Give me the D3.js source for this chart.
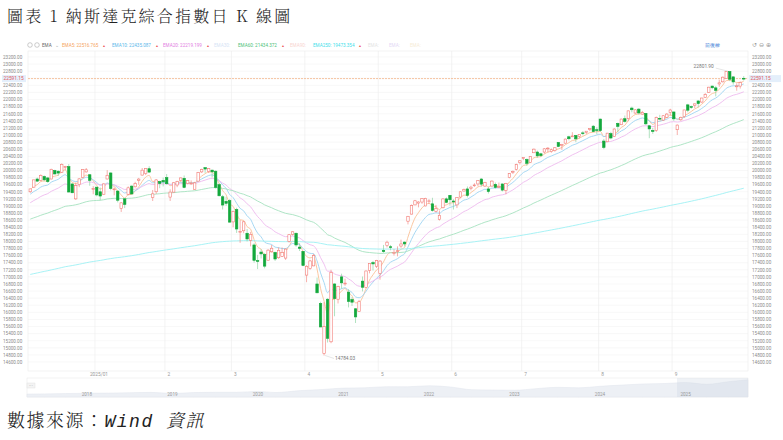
<!DOCTYPE html>
<html><head><meta charset="utf-8">
<script src="https://cdn.jsdelivr.net/npm/d3@7/dist/d3.min.js"></script>
<style>body{margin:0;background:#fff;}svg{display:block;}</style>
</head><body>
<svg id="c" width="783" height="440"></svg>
<script>
const candles = [
["2024-12-03",19400,19490,19370,19480],["2024-12-04",19530,19740,19510,19735],["2024-12-05",19760,19800,19680,19700],["2024-12-06",19720,19890,19700,19860],["2024-12-09",19830,19860,19700,19737],["2024-12-10",19790,19820,19650,19687],["2024-12-11",19760,20050,19750,20034],["2024-12-12",20000,20020,19890,19902],["2024-12-13",19980,20000,19850,19927],["2024-12-16",19950,20200,19930,20173],["2024-12-17",20100,20130,20010,20109],["2024-12-18",20110,20180,19380,19393],["2024-12-19",19620,19640,19360,19372],["2024-12-20",19200,19660,19170,19573],["2024-12-23",19600,19780,19530,19764],["2024-12-24",19800,20040,19790,20031],["2024-12-26",19960,20070,19940,20020],["2024-12-27",19880,19900,19570,19722],["2024-12-30",19480,19560,19330,19487],["2024-12-31",19530,19540,19270,19311],
["2025-01-02",19400,19520,19160,19280],["2025-01-03",19330,19640,19320,19622],["2025-01-06",19760,20010,19750,19865],["2025-01-07",19930,19950,19440,19490],["2025-01-08",19470,19520,19300,19479],["2025-01-10",19420,19430,19100,19162],["2025-01-13",18930,19100,18830,19088],["2025-01-14",19200,19220,18940,19044],["2025-01-15",19330,19550,19300,19511],["2025-01-16",19560,19580,19330,19338],["2025-01-17",19540,19680,19520,19630],["2025-01-21",19720,19790,19600,19757],["2025-01-22",19870,20070,19860,20009],["2025-01-23",19910,20060,19870,20054],["2025-01-24",20050,20120,19930,19955],["2025-01-27",19240,19450,19140,19342],["2025-01-28",19400,19760,19340,19734],["2025-01-29",19690,19710,19500,19633],["2025-01-30",19720,19800,19550,19681],["2025-01-31",19800,19900,19600,19627],
["2025-02-03",19250,19470,19140,19391],["2025-02-04",19390,19670,19380,19654],["2025-02-05",19590,19710,19530,19692],["2025-02-06",19720,19800,19690,19791],["2025-02-07",19780,19860,19500,19523],["2025-02-10",19630,19730,19610,19714],["2025-02-11",19620,19720,19600,19643],["2025-02-12",19470,19680,19460,19650],["2025-02-13",19700,19960,19690,19946],["2025-02-14",19960,20050,19930,20026],["2025-02-18",20080,20080,19930,20041],["2025-02-19",19970,20070,19930,20056],["2025-02-20",20010,20020,19810,19962],["2025-02-21",19980,20000,19490,19524],["2025-02-24",19600,19640,19270,19287],["2025-02-25",19260,19310,18900,19026],["2025-02-26",19130,19260,19000,19075],["2025-02-27",19150,19190,18530,18544],["2025-02-28",18550,18870,18400,18847],
["2025-03-03",18900,18950,18240,18350],["2025-03-04",18260,18600,17960,18285],["2025-03-05",18300,18580,18230,18553],["2025-03-06",18230,18350,18000,18069],["2025-03-07",18030,18270,17860,18196],["2025-03-10",17900,17950,17400,17468],["2025-03-11",17460,17620,17220,17436],["2025-03-12",17700,17780,17520,17648],["2025-03-13",17630,17670,17240,17303],["2025-03-14",17470,17780,17460,17754],["2025-03-17",17710,17900,17680,17808],["2025-03-18",17690,17710,17450,17504],["2025-03-19",17540,17830,17510,17750],["2025-03-20",17580,17830,17560,17692],["2025-03-21",17530,17800,17480,17784],["2025-03-24",18000,18200,17970,18189],["2025-03-25",18200,18280,18170,18272],["2025-03-26",18230,18250,17850,17900],["2025-03-27",17840,17950,17730,17805],["2025-03-28",17720,17730,17300,17323],["2025-03-31",17050,17330,16850,17299],
["2025-04-01",17240,17480,17200,17450],["2025-04-02",17310,17650,17300,17601],["2025-04-03",16800,16980,16540,16551],["2025-04-04",16250,16300,15580,15588],["2025-04-07",14840,16290,14784.03,15603],["2025-04-08",16370,16400,15150,15268],["2025-04-09",15170,17200,15130,17125],["2025-04-10",16800,16820,15890,16387],["2025-04-11",16370,16750,16250,16724],["2025-04-14",17000,17090,16670,16832],["2025-04-15",16820,16950,16750,16824],["2025-04-16",16570,16650,16140,16307],["2025-04-17",16360,16430,16180,16287],["2025-04-21",16100,16120,15700,15871],["2025-04-22",16030,16350,16010,16300],["2025-04-23",16880,17010,16590,16708],["2025-04-24",16700,17180,16680,17166],["2025-04-25",17180,17390,17100,17383],["2025-04-28",17400,17450,17180,17366],["2025-04-29",17300,17480,17250,17461],["2025-04-30",17100,17470,16920,17446],
["2025-05-01",17750,17900,17680,17711],["2025-05-02",17880,18020,17830,17978],["2025-05-05",17850,17900,17750,17844],["2025-05-06",17660,17780,17600,17690],["2025-05-07",17720,17860,17580,17738],["2025-05-08",17870,18050,17820,17928],["2025-05-09",17980,18000,17860,17929],["2025-05-12",18570,18720,18480,18708],["2025-05-13",18770,19040,18760,19010],["2025-05-14",19030,19170,19020,19146],["2025-05-15",19080,19130,18960,19112],["2025-05-16",19110,19220,19060,19211],["2025-05-19",19000,19230,18990,19215],["2025-05-20",19140,19190,19060,19143],["2025-05-21",19060,19230,18840,18873],["2025-05-22",18850,19030,18820,18926],["2025-05-23",18620,18870,18590,18737],["2025-05-27",18950,19210,18930,19199],["2025-05-28",19200,19240,19080,19101],["2025-05-29",19300,19310,19010,19175],["2025-05-30",19140,19190,18900,19114],
["2025-06-02",19030,19250,18940,19243],["2025-06-03",19250,19410,19220,19399],["2025-06-04",19420,19490,19410,19460],["2025-06-05",19480,19550,19240,19298],["2025-06-06",19490,19570,19440,19530],["2025-06-09",19570,19640,19540,19591],["2025-06-10",19620,19730,19560,19715],["2025-06-11",19760,19780,19550,19615],["2025-06-12",19560,19680,19540,19662],["2025-06-13",19480,19540,19350,19407],["2025-06-16",19560,19720,19550,19701],["2025-06-17",19610,19660,19490,19521],["2025-06-18",19530,19660,19500,19546],["2025-06-20",19620,19630,19410,19447],["2025-06-23",19440,19650,19330,19631],["2025-06-24",19800,19930,19780,19913],["2025-06-25",19970,20000,19900,19973],["2025-06-26",20030,20190,20000,20168],["2025-06-27",20220,20290,20170,20273],["2025-06-30",20340,20380,20290,20370],
["2025-07-01",20310,20340,20130,20202],["2025-07-02",20230,20400,20220,20393],["2025-07-03",20500,20620,20490,20601],["2025-07-07",20520,20560,20360,20413],["2025-07-08",20470,20500,20380,20419],["2025-07-09",20520,20630,20480,20611],["2025-07-10",20620,20660,20510,20630],["2025-07-11",20530,20620,20500,20586],["2025-07-14",20560,20660,20530,20641],["2025-07-15",20790,20800,20660,20677],["2025-07-16",20700,20750,20580,20730],["2025-07-17",20770,20900,20760,20885],["2025-07-18",20950,20980,20850,20896],["2025-07-21",20950,21080,20940,20974],["2025-07-22",20990,21000,20800,20892],["2025-07-23",20960,21020,20900,21020],["2025-07-24",21060,21110,20990,21058],["2025-07-25",21070,21110,21030,21108],["2025-07-28",21160,21190,21110,21179],["2025-07-29",21250,21280,21080,21098],["2025-07-30",21150,21220,21020,21130],["2025-07-31",21450,21460,21090,21122],
["2025-08-01",20830,20890,20600,20650],["2025-08-04",20810,21060,20800,21053],["2025-08-05",21040,21090,20880,20916],["2025-08-06",20960,21190,20950,21169],["2025-08-07",21330,21350,21080,21243],["2025-08-08",21290,21460,21280,21450],["2025-08-11",21460,21550,21350,21385],["2025-08-12",21460,21690,21390,21681],["2025-08-13",21760,21800,21640,21713],["2025-08-14",21620,21730,21600,21710],["2025-08-15",21730,21760,21580,21623],["2025-08-18",21590,21680,21570,21630],["2025-08-19",21610,21620,21280,21315],["2025-08-20",21260,21280,20910,21172],["2025-08-21",21130,21200,21030,21100],["2025-08-22",21130,21520,21090,21496],["2025-08-25",21470,21570,21440,21449],["2025-08-26",21420,21560,21400,21544],["2025-08-27",21500,21620,21480,21590],["2025-08-28",21640,21740,21550,21705],["2025-08-29",21650,21660,21400,21456],
["2025-09-02",21150,21300,21000,21280],["2025-09-03",21430,21520,21400,21498],["2025-09-04",21520,21710,21480,21707],["2025-09-05",21850,21880,21640,21700],["2025-09-08",21800,21830,21740,21799],["2025-09-09",21840,21890,21760,21879],["2025-09-10",21960,21980,21780,21886],["2025-09-11",21930,22050,21910,22043],["2025-09-12",22060,22180,22050,22141],["2025-09-15",22200,22360,22190,22349],["2025-09-16",22380,22390,22290,22333],["2025-09-17",22330,22380,22090,22261],["2025-09-18",22440,22560,22360,22471],["2025-09-19",22500,22650,22480,22631],["2025-09-22",22600,22790,22590,22788],["2025-09-23",22790,22801.9,22520,22573],["2025-09-24",22640,22650,22420,22497],["2025-09-25",22360,22460,22250,22385],["2025-09-26",22380,22510,22310,22484],["2025-09-29",22600,22660,22540,22591.15]
];
const emaPeriods = [5,10,20,60,250];
const emaSeeds = [19450,19300,19050,18600,17050];
const emaColors = ["#f9c196","#9dd4f2","#eebaee","#a6e2bf","#9ef0f4"];
const legendItems = [["EMA5: 22516.765","#f5a35c"],["EMA10: 22435.087","#5cb8ea"],["EMA20: 22219.199","#e27ee2"],["EMA30:","#d6e4f5"],["EMA60: 21434.372","#4fbf7a"],["EMA90:","#f8d4d0"],["EMA250: 19473.354","#3fe0ea"],["EMA:","#e4e4e4"],["EMA:","#e3d8f5"],["EMA:","#f6ecd6"]];
const yTicks = d3.range(14600, 23201, 200);
const lastPrice = 22591.15, highLabel = "22801.90", lowLabel = "14784.03";
const navYears = ["2018","2019","2020","2021","2022","2023","2024","2025"];
const navT = [2017.3,2017.5,2017.75,2018,2018.25,2018.5,2018.75,2019,2019.25,2019.5,2019.75,2020,2020.2,2020.5,2020.75,2021,2021.25,2021.5,2021.75,2022,2022.25,2022.5,2022.75,2023,2023.25,2023.5,2023.75,2024,2024.25,2024.5,2024.75,2025,2025.25,2025.5,2025.73];
const navV = [5900,6140,6500,6900,7060,7500,7900,6600,7700,8000,8000,9000,7700,10000,11200,12900,13250,14500,14450,15650,14200,11000,10600,10400,12200,13800,13200,15000,16400,17700,18200,19300,17300,20300,22600];

const svg = d3.select("#c");
const L=28, R=746, T=51, B=371;
const x = d3.scaleBand().domain(candles.map(d=>d[0])).range([L,R]).padding(0.3);
const y = d3.scaleLinear().domain([14600,23200]).range([362,57]);
const font = "Roboto, 'Noto Sans', sans-serif";

svg.append("text").attr("x",7).attr("y",22).attr("font-size",16).attr("font-weight",300).attr("letter-spacing",2.2)
  .attr("font-family","'Noto Serif CJK TC','Noto Sans CJK TC',serif").attr("fill","#222").text("圖表 1 納斯達克綜合指數日 K 線圖");

const g = svg.append("g");
g.selectAll("line.h").data(yTicks).join("line").attr("x1",L).attr("x2",R+2).attr("y1",d=>y(d)).attr("y2",d=>y(d)).attr("stroke","#f3f3f3").attr("stroke-width",0.6);
const monthFirst = [];
candles.forEach((d,i)=>{ if(i>0 && d[0].slice(5,7)!==candles[i-1][0].slice(5,7) && d[0]>="2025") monthFirst.push(d[0]); });
g.selectAll("line.v").data(monthFirst).join("line").attr("x1",d=>x(d)-4).attr("x2",d=>x(d)-4).attr("y1",T).attr("y2",B).attr("stroke","#eeeeee").attr("stroke-width",0.7);
g.append("rect").attr("x",L).attr("y",T).attr("width",R-L+2).attr("height",B-T).attr("fill","none").attr("stroke","#ececec").attr("stroke-width",0.6);

[3,752].forEach(xx=>{
  svg.append("g").selectAll("text").data(yTicks).join("text").attr("x",xx).attr("y",d=>y(d)+1.8).attr("font-size",4.6).attr("font-family",font).attr("fill","#8a8a8a").text(d=>d.toFixed(2));
});
svg.append("g").selectAll("text").data(monthFirst).join("text").attr("x",d=>x(d)).attr("y",376).attr("text-anchor","middle").attr("font-size",4.8).attr("font-family",font).attr("fill","#999").text(d=>d.slice(5,7)==="01"?"2025/01":String(+d.slice(5,7)));

const closes = candles.map(d=>d[4]);
emaPeriods.forEach((p,k)=>{
  const a = 2/(p+1); let e = emaSeeds[k]; const vals=[];
  closes.forEach(c=>{ e = a*c+(1-a)*e; vals.push(e); });
  svg.append("path").datum(vals).attr("fill","none").attr("stroke",emaColors[k]).attr("stroke-width",0.9)
    .attr("d",d3.line().x((v,i)=>x(candles[i][0])+x.bandwidth()/2).y(v=>y(v)).curve(d3.curveMonotoneX));
});

svg.append("line").attr("x1",L).attr("x2",R+2).attr("y1",y(lastPrice)).attr("y2",y(lastPrice)).attr("stroke","#f5b68a").attr("stroke-width",0.8).attr("stroke-dasharray","2,1");

const up="#f27a74", dn="#13a83c";
const cg = svg.append("g");
candles.forEach(d=>{
  const [dt,o,h,l,c]=d; const isUp = c>=o; const col = isUp?up:dn;
  const cx = x(dt)+x.bandwidth()/2;
  cg.append("line").attr("x1",cx).attr("x2",cx).attr("y1",y(h)).attr("y2",y(l)).attr("stroke",isUp?up:"#7ccf95").attr("stroke-width",0.6);
  const top=y(Math.max(o,c)), hh=Math.max(0.8,Math.abs(y(o)-y(c)));
  cg.append("rect").attr("x",x(dt)).attr("y",top).attr("width",x.bandwidth()).attr("height",hh)
    .attr("fill",isUp?"#fff":dn).attr("stroke",col).attr("stroke-width",0.6);
});

const hiD = candles.reduce((a,b)=>b[2]>a[2]?b:a), loD = candles.reduce((a,b)=>b[3]<a[3]?b:a);
const hx=x(hiD[0])+x.bandwidth()/2, lx=x(loD[0])+x.bandwidth()/2;
svg.append("line").attr("x1",hx-2).attr("y1",y(hiD[2])).attr("x2",hx-14).attr("y2",y(hiD[2])-3).attr("stroke","#ccc").attr("stroke-width",0.5);
svg.append("text").attr("x",hx-16).attr("y",y(hiD[2])-3).attr("text-anchor","end").attr("font-size",4.8).attr("font-family",font).attr("fill","#777").text(highLabel);
svg.append("line").attr("x1",lx+1).attr("y1",y(loD[3])).attr("x2",lx+10).attr("y2",y(loD[3])+3).attr("stroke","#ccc").attr("stroke-width",0.5);
svg.append("text").attr("x",lx+11).attr("y",y(loD[3])+5).attr("font-size",4.8).attr("font-family",font).attr("fill","#777").text(lowLabel);

[[2,L-2],[749,781]].forEach(([x0,x1])=>{
  svg.append("rect").attr("x",x0).attr("y",y(lastPrice)-3.5).attr("width",x1-x0).attr("height",7).attr("fill","#e4effb");
  svg.append("text").attr("x",x0+1.5).attr("y",y(lastPrice)+1.8).attr("font-size",4.8).attr("font-family",font).attr("fill","#e0555b").text(lastPrice.toFixed(2));
});

const lg = svg.append("g").attr("font-family",font).attr("font-size",4.6);
lg.append("circle").attr("cx",30).attr("cy",45).attr("r",2.3).attr("fill","none").attr("stroke","#aaa").attr("stroke-width",0.6);
lg.append("circle").attr("cx",37).attr("cy",45).attr("r",2.3).attr("fill","none").attr("stroke","#aaa").attr("stroke-width",0.6);
lg.append("text").attr("x",42).attr("y",46.6).attr("fill","#666").text("EMA");
lg.append("text").attr("x",55).attr("y",46.6).attr("fill","#aaa").text("⌄");
const lx0=[62,112,163,214,238,290,313,368,389,410];
legendItems.forEach((it,i)=>{
  lg.append("text").attr("x",lx0[i]).attr("y",46.6).attr("fill",it[1]).text(it[0]);
  if(it[0].length>7) lg.append("text").attr("x",lx0[i]+(it[0].length*2.55)+3).attr("y",46.6).attr("fill","#e55").attr("font-size",4).text("▴");
});
lg.append("text").attr("x",705).attr("y",46.6).attr("fill","#3a7bd5").text("前復權");
["↺","⊖","⊕"].forEach((s,i)=>lg.append("text").attr("x",752+i*7).attr("y",47).attr("fill","#999").attr("font-size",6).text(s));

const nx = d3.scaleLinear().domain([2017.3,2025.73]).range([27,748]);
const ny = d3.scaleLinear().domain([2500,23500]).range([397,379]);
svg.append("rect").attr("x",27).attr("y",378).attr("width",721).attr("height",19).attr("fill","#fff").attr("stroke","#e6e6e6").attr("stroke-width",0.5);
svg.append("path").datum(navT.map((t,i)=>[t,navV[i]])).attr("fill","#edf0f5").attr("stroke","#e0e5ec").attr("stroke-width",0.5)
  .attr("d",d3.area().x(d=>nx(d[0])).y0(397).y1(d=>ny(d[1])).curve(d3.curveMonotoneX));
svg.append("rect").attr("x",nx(2024.9)).attr("y",378).attr("width",748-nx(2024.9)).attr("height",19).attr("fill","#c9d3e2").attr("opacity",0.3);
svg.append("rect").attr("x",27).attr("y",383).attr("width",8).attr("height",5).attr("fill","#f4f4f4").attr("stroke","#ddd").attr("stroke-width",0.4);
svg.append("text").attr("x",31).attr("y",387).attr("text-anchor","middle").attr("font-size",4).attr("fill","#888").text("···");
svg.append("g").selectAll("text").data(navYears).join("text").attr("x",d=>nx(+d)).attr("y",396).attr("text-anchor","middle").attr("font-size",4.6).attr("font-family",font).attr("fill","#999").text(d=>d);

const st = svg.append("text").attr("x",7).attr("y",427).attr("font-size",18).attr("font-weight",300).attr("letter-spacing",1.5).attr("font-family","'Noto Serif CJK TC','Noto Sans CJK TC',serif").attr("fill","#222");
st.append("tspan").text("數據來源：");
st.append("tspan").attr("font-style","italic").attr("font-family","'Liberation Mono','DejaVu Sans Mono',monospace").text("Wind ");
st.append("tspan").attr("font-style","italic").text("資訊");
</script>
</body></html>
